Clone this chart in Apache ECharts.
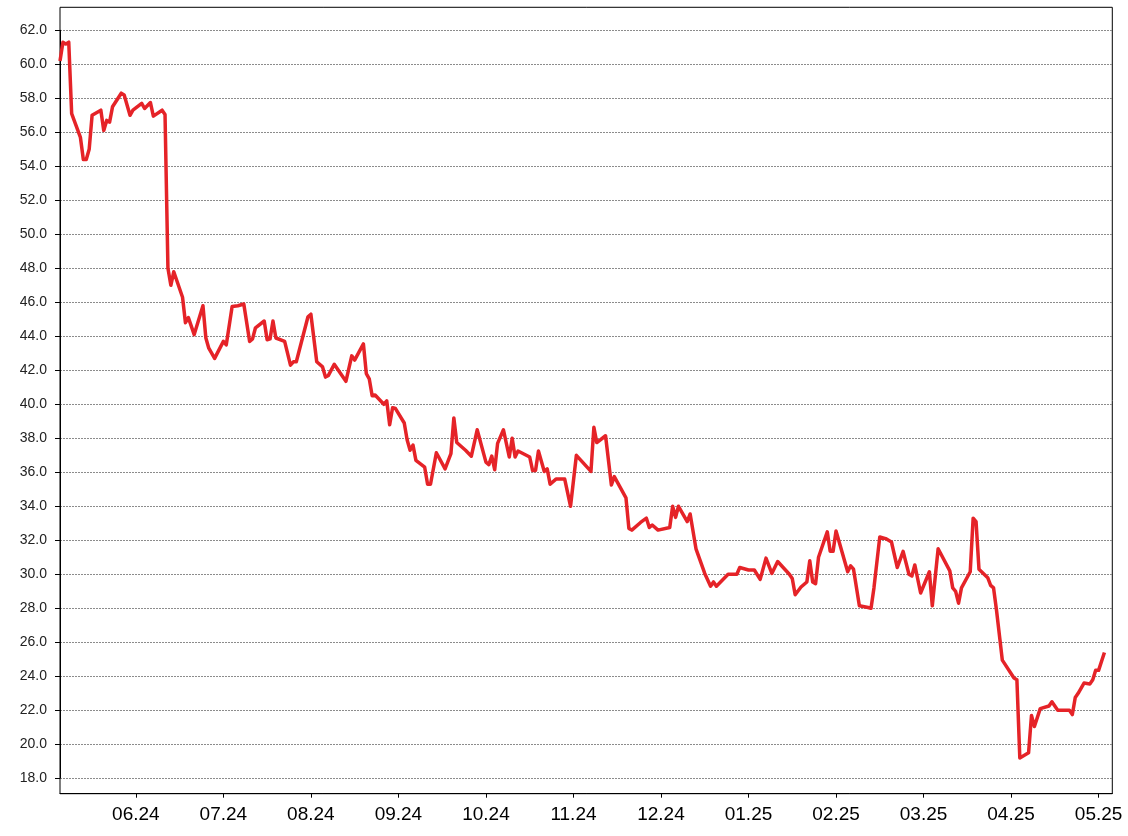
<!DOCTYPE html>
<html>
<head>
<meta charset="utf-8">
<script src="https://cdn.jsdelivr.net/npm/echarts@6/dist/echarts.min.js"></script>
<style>
html,body{margin:0;padding:0;background:#fff;}
#chart{width:1128px;height:836px;}
</style>
</head>
<body>
<div id="chart"></div>
<script>
// x position of each vertex, in axis steps (30 steps between month ticks)
const days = [0,1,2,3,4,7,8,9,10,11,14,15,16,17,18,21,22,24,25,28,29,31,32,35,36,37,38,39,42,43,44,46,49,
  50,51,53,56,57,59,61,63,65,66,67,70,71,72,73,74,77,79,80,81,85,86,88,90,91,92,94,98,
  100,101,104,105,106,107,108,111,112,113,114,115,118,119,120,121,122,125,126,127,129,132,134,135,136,139,141,143,146,147,148,149,
  150,152,154,155,156,157,161,162,163,164,166,167,168,170,173,175,177,182,183,184,187,189,190,194,195,196,199,
  201,202,203,205,209,210,211,212,215,216,218,221,223,224,225,229,232,233,236,238,240,242,244,246,250,
  251,252,254,256,257,258,259,260,263,264,265,266,270,271,272,274,277,278,279,281,283,285,287,289,291,292,293,295,298,299,
  301,305,306,307,308,309,312,313,314,315,318,319,320,321,323,327,328,329,332,333,334,336,339,340,342,346,347,348,349,351,353,354,355,356,358];
const prices = [60.2,61.3,61.2,61.3,57.1,55.7,54.4,54.4,55.0,57.0,57.3,56.1,56.7,56.6,57.5,58.3,58.2,57.0,57.3,57.7,57.4,57.75,56.95,57.3,57.05,48.0,47.0,47.8,46.3,44.8,45.1,44.1,45.8,
  43.9,43.3,42.7,43.7,43.5,45.75,45.8,45.9,43.7,43.85,44.5,44.9,43.8,43.85,44.9,43.9,43.7,42.3,42.5,42.5,45.15,45.3,42.5,42.2,41.6,41.7,42.35,41.35,
  42.85,42.6,43.55,41.8,41.5,40.5,40.55,40.0,40.2,38.8,39.8,39.75,38.9,37.9,37.3,37.6,36.7,36.3,35.3,35.3,37.15,36.2,37.1,39.2,37.75,37.3,36.95,38.5,36.6,36.45,36.95,36.15,
  37.7,38.5,36.9,38.0,36.9,37.25,36.9,36.1,36.1,37.25,36.05,36.2,35.3,35.6,35.6,34.0,37.0,36.05,38.65,37.75,38.15,35.25,35.75,34.5,32.7,32.6,33.05,
  33.3,32.75,32.9,32.6,32.75,34.0,33.35,34.0,33.1,33.55,31.5,30.05,29.3,29.55,29.3,30.0,30.0,30.4,30.25,30.25,29.7,30.95,30.05,30.75,30.0,
  29.75,28.8,29.25,29.55,30.8,29.55,29.45,31.0,32.5,31.35,31.35,32.55,30.15,30.5,30.3,28.15,28.05,28.0,29.2,32.2,32.1,31.9,30.4,31.35,30.0,29.9,30.55,28.9,30.15,28.15,
  31.5,30.2,29.2,29.0,28.3,29.2,30.15,33.3,33.1,30.3,29.8,29.35,29.2,27.9,24.95,23.9,23.8,19.2,19.5,21.7,21.05,22.1,22.25,22.5,22.0,22.0,21.75,22.75,23.0,23.6,23.55,23.8,24.35,24.35,25.4];
const tickLabels = ['06.24','07.24','08.24','09.24','10.24','11.24','12.24','01.25','02.25','03.25','04.25','05.25'];
const tickDays = [26,56,86,116,146,176,206,236,266,296,326,356];

const seriesData = days.map((d, i) => [d, prices[i]]);

const chart = echarts.init(document.getElementById('chart'), null, {renderer: 'canvas'});
chart.setOption({
  animation: false,
  backgroundColor: '#fff',
  grid: [
    {left: 60, right: 15.7, top: 30.3, bottom: 57.7, show: false},
    {left: 60, right: 15.7, top: 7.3, bottom: 42.3, show: true, borderColor: '#000', borderWidth: 1, backgroundColor: 'transparent'}
  ],
  xAxis: [
    {
      type: 'value', gridIndex: 0, min: 0, max: 360.7, offset: 15.4,
      axisLine: {show: true, lineStyle: {color: '#000', width: 1}},
      axisTick: {show: true, length: 4, lineStyle: {color: '#000', width: 1}, customValues: tickDays},
      axisLabel: {
        show: true, customValues: tickDays, margin: 12,
        fontFamily: 'Liberation Sans, Arial, sans-serif', fontSize: 19, color: '#000',
        formatter: v => { const j = tickDays.indexOf(Math.round(v)); return j >= 0 ? tickLabels[j] : ''; }
      },
      splitLine: {show: false}
    },
    {type: 'value', gridIndex: 1, min: 0, max: 1, show: false}
  ],
  yAxis: [
    {
      type: 'value', gridIndex: 0, min: 18, max: 62, interval: 2,
      axisLine: {show: true, lineStyle: {color: '#000', width: 1}},
      axisTick: {show: true, length: 5, lineStyle: {color: '#000', width: 1}},
      axisLabel: {
        margin: 13, fontFamily: 'Liberation Sans, Arial, sans-serif', fontSize: 14, color: '#222',
        formatter: v => v.toFixed(1)
      },
      splitLine: {show: true, lineStyle: {color: '#8c8c8c', width: 1, type: [2, 1]}}
    },
    {type: 'value', gridIndex: 1, min: 0, max: 1, show: false}
  ],
  series: [{
    type: 'line',
    xAxisIndex: 0, yAxisIndex: 0,
    data: seriesData,
    showSymbol: false,
    symbol: 'none',
    lineStyle: {color: '#e52328', width: 3.5, join: 'round'},
    clip: false
  }]
});
</script>
</body>
</html>
